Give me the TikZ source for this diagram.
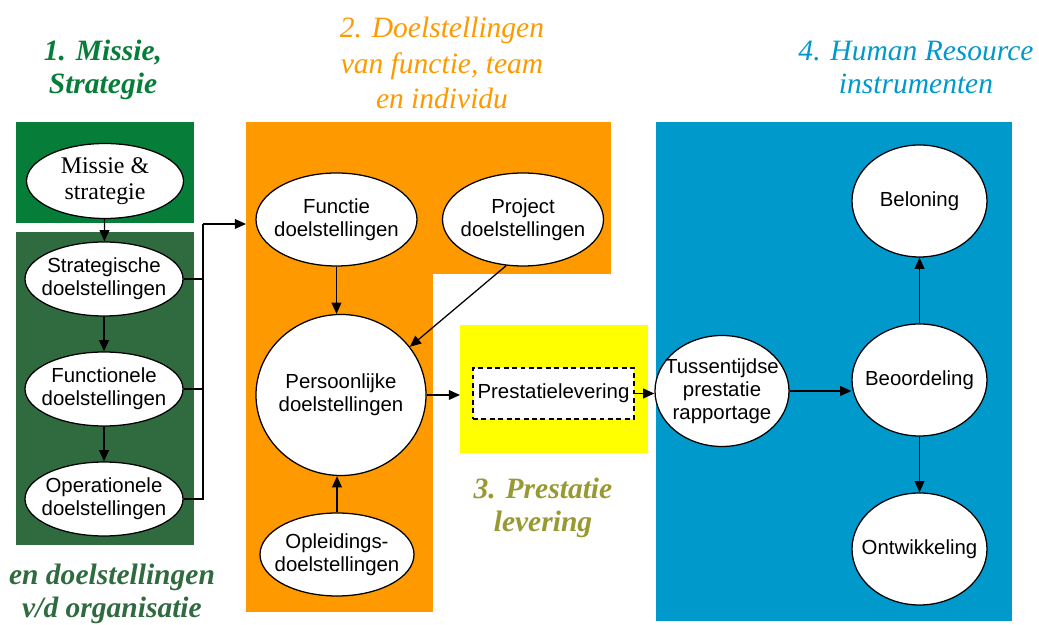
\documentclass[tikz,border=0pt]{standalone}
\usepackage{fontspec}
\setmainfont{Liberation Serif}
\setsansfont{Liberation Sans}
\usepackage{xcolor}
\usepackage{tikz}
\definecolor{missiegroen}{RGB}{7,125,58}
\definecolor{orggroen}{RGB}{47,107,62}
\definecolor{doeloranje}{RGB}{255,153,0}
\definecolor{prestatiegeel}{RGB}{255,255,0}
\definecolor{olijf}{RGB}{153,153,51}
\definecolor{hrblauw}{RGB}{0,153,204}
\usetikzlibrary{shapes,arrows.meta,positioning,calc}

\begin{document}
\begin{tikzpicture}[
    vlak/.style={rectangle, anchor=north west, inner sep=0pt, draw=none},
    doel/.style={ellipse, draw=black, fill=white, line width=0.9pt, inner xsep=-10pt, inner ysep=0pt, align=center, font=\sffamily\fontsize{14.5}{16.5}\selectfont},
    kop/.style={align=center, font=\itshape\fontsize{21}{23.5}\selectfont},
    kopdik/.style={align=center, font=\itshape\bfseries\fontsize{21}{23.5}\selectfont},
    pijl/.style={-{Triangle[length=8pt,width=7pt]}, line width=0.9pt},
    lijn/.style={line width=0.9pt}
]
    \useasboundingbox (0,0) rectangle (25.975,15.625);

    % Vlakken
    \node[vlak, fill=missiegroen, minimum width=4.45cm, minimum height=2.525cm] (missievlak) at (0.4,12.575) {};
    \node[vlak, fill=orggroen, minimum width=4.45cm, minimum height=7.825cm] (orgvlak) at (0.4,9.825) {};
    \node[vlak, fill=doeloranje, minimum width=9.125cm, minimum height=3.8cm] (oranje) at (6.15,12.575) {};
    \node[vlak, fill=doeloranje, minimum width=4.675cm, minimum height=8.475cm] (oranjeonder) at (6.15,8.8) {};
    \node[vlak, fill=prestatiegeel, minimum width=4.7cm, minimum height=3.2cm] (geel) at (11.5,7.5) {};
    \node[vlak, fill=hrblauw, minimum width=8.9cm, minimum height=12.475cm] (blauw) at (16.4,12.575) {};

    % Koppen
    \node[kopdik, text=missiegroen] (kop1) at (2.575,13.875) {1. Missie,\\Strategie};
    \node[kop, text=doeloranje, font=\itshape\fontsize{21}{25}\selectfont] (kop2) at (11.05,14.05) {2. Doelstellingen\\van functie, team\\en individu};
    \node[kopdik, text=olijf] (kop3) at (13.575,2.925) {3. Prestatie\\levering};
    \node[kop, text=hrblauw] (kop4) at (22.9,13.95) {4. Human Resource\\instrumenten};
    \node[kopdik, text=orggroen] (kop5) at (2.8,0.775) {en doelstellingen\\v/d organisatie};

    % Organisatie
    \node[doel, font=\fontsize{17}{18.5}\selectfont, minimum width=3.925cm, minimum height=1.875cm] (missie) at (2.625,11.1) {Missie \&\\strategie};
    \node[doel, minimum width=3.95cm, minimum height=1.85cm] (strategisch) at (2.6,8.65) {Strategische\\doelstellingen};
    \node[doel, minimum width=3.95cm, minimum height=1.85cm] (functioneel) at (2.6,5.9) {Functionele\\doelstellingen};
    \node[doel, minimum width=3.95cm, minimum height=1.85cm] (operationeel) at (2.6,3.15) {Operationele\\doelstellingen};

    % Functie, team en individu
    \node[doel, minimum width=4.025cm, minimum height=2.325cm] (functie) at (8.4125,10.1375) {Functie\\doelstellingen};
    \node[doel, minimum width=4.025cm, minimum height=2.325cm] (project) at (13.075,10.1375) {Project\\doelstellingen};
    \node[doel, minimum width=4.25cm, minimum height=4.025cm] (persoonlijk) at (8.525,5.75) {Persoonlijke\\doelstellingen};
    \node[doel, minimum width=3.85cm, minimum height=2.075cm] (opleiding) at (8.425,1.7625) {Opleidings-\\doelstellingen};

    % Prestatie
    \node[draw, dashed, dash pattern=on 3.5pt off 2.5pt, fill=white, line width=1pt, minimum width=4.025cm, minimum height=1.275cm, inner sep=0pt, font=\sffamily\fontsize{14.5}{16.5}\selectfont] (prestatie) at (13.8375,5.7875) {Prestatielevering};

    % HR instrumenten
    \node[doel, minimum width=3.35cm, minimum height=2.775cm] (tussentijds) at (18.05,5.85) {Tussentijdse\\prestatie\\rapportage};
    \node[doel, minimum width=3.375cm, minimum height=2.8cm] (beoordeling) at (22.9875,6.125) {Beoordeling};
    \node[doel, minimum width=3.375cm, minimum height=2.8cm] (beloning) at (22.9875,10.6) {Beloning};
    \node[doel, minimum width=3.375cm, minimum height=2.8cm] (ontwikkeling) at (22.9875,1.9) {Ontwikkeling};

    % Pijlen
    \coordinate (bus) at (5.075,10.025);
    \draw[pijl] (missie) -- (strategisch);
    \draw[pijl] (strategisch) -- (functioneel);
    \draw[pijl] (functioneel) -- (operationeel);
    \draw[lijn] (strategisch.east) -| (bus);
    \draw[lijn] (functioneel.east) -| (bus);
    \draw[lijn] (operationeel.east) -| (bus);
    \draw[pijl] (bus) -- (bus -| oranje.west);
    \draw[pijl] (functie.south) -- (functie.south |- persoonlijk.north);
    \draw[pijl] (project.250) -- (persoonlijk.35);
    \draw[pijl] (opleiding.north) -- (opleiding.north |- persoonlijk.south);
    \draw[pijl] (persoonlijk.east) -- (persoonlijk.east -| geel.west);
    \draw[pijl] (prestatie.east) -- (prestatie.east -| tussentijds.west);
    \draw[pijl] (tussentijds.east) -- (tussentijds.east -| beoordeling.west);
    \draw[pijl] (beoordeling) -- (beloning);
    \draw[pijl] (beoordeling) -- (ontwikkeling);
\end{tikzpicture}
\end{document}
